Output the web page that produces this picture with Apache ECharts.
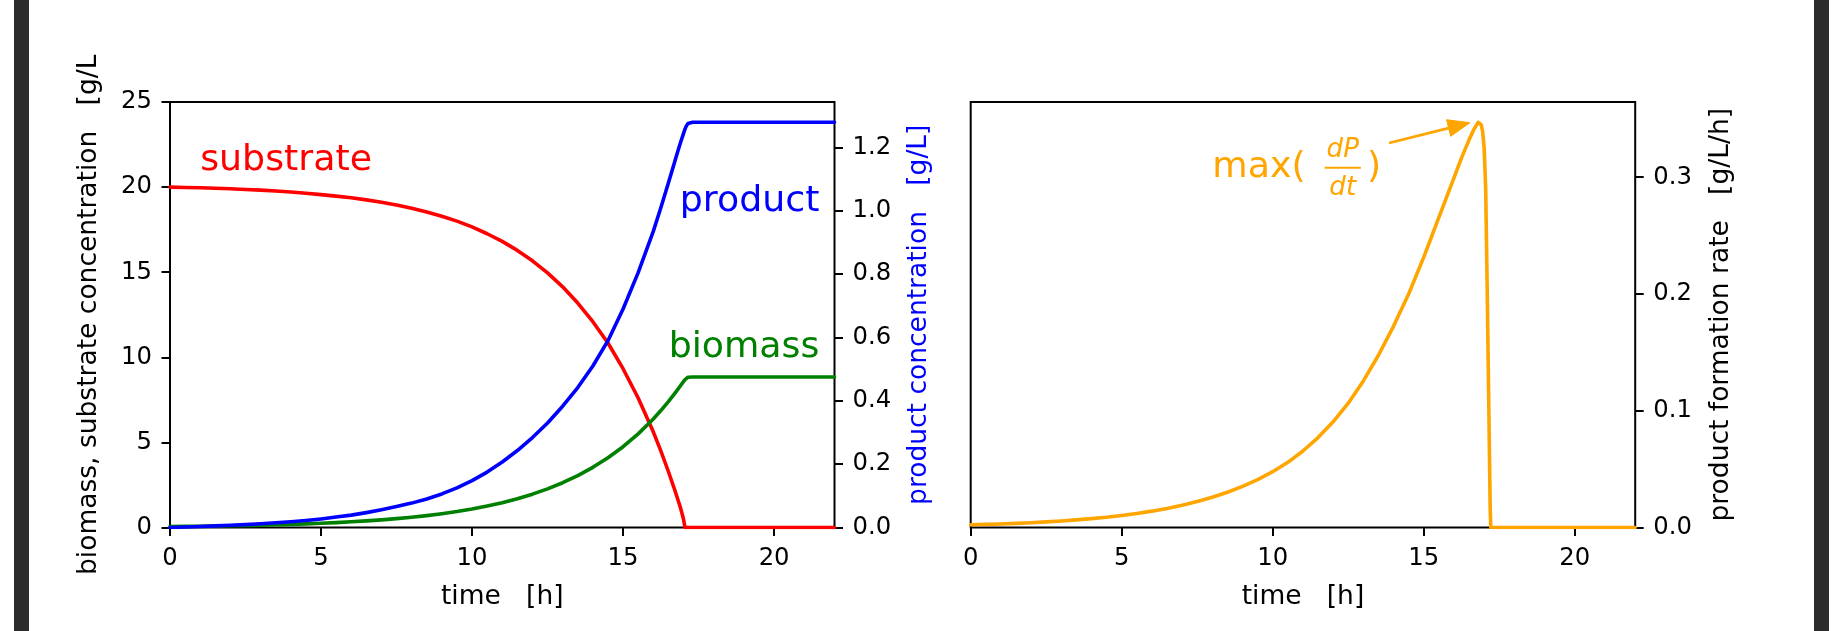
<!DOCTYPE html>
<html>
<head>
<meta charset="utf-8">
<script src="https://cdn.jsdelivr.net/npm/echarts@6.0.0/dist/echarts.min.js"></script>
<style>
html,body{margin:0;padding:0;background:#ffffff;}
#c{width:1845px;height:631px;}
</style>
</head>
<body>
<div id="c"></div>
<script>
// ---------- data ----------
const time = [0,0.5,1,1.5,2,2.5,3,3.5,4,4.5,5,5.5,6,6.5,7,7.5,8,8.5,9,9.5,10,10.5,11,11.5,12,12.5,13,13.5,14,14.5,15,15.5,16,16.25,16.5,16.7,16.8,16.9,17.0,17.05,17.1,17.15,17.2,17.3,18,19,20,21,22];
const substrate = [20.0,19.98,19.96,19.93,19.9,19.86,19.82,19.77,19.71,19.64,19.56,19.47,19.37,19.25,19.11,18.95,18.76,18.54,18.29,18.0,17.66,17.26,16.81,16.28,15.67,14.96,14.14,13.19,12.09,10.84,9.33,7.61,5.62,4.5,3.29,2.26,1.72,1.17,0.5,0,0,0,0,0,0,0,0,0,0];
const biomass = [0.057,0.066,0.076,0.089,0.103,0.119,0.138,0.16,0.185,0.215,0.249,0.288,0.334,0.387,0.448,0.52,0.602,0.698,0.809,0.937,1.086,1.259,1.459,1.691,1.959,2.271,2.631,3.05,3.534,4.096,4.746,5.5,6.375,6.87,7.4,7.85,8.09,8.33,8.57,8.69,8.78,8.83,8.845,8.845,8.845,8.845,8.845,8.845,8.845];
const product = [0,0.0015,0.003,0.005,0.007,0.009,0.012,0.015,0.018,0.022,0.027,0.033,0.039,0.047,0.056,0.066,0.077,0.09,0.106,0.125,0.148,0.175,0.207,0.243,0.284,0.33,0.383,0.442,0.51,0.59,0.69,0.805,0.935,1.01,1.088,1.152,1.184,1.215,1.244,1.258,1.269,1.276,1.279,1.2797,1.2797,1.2797,1.2797,1.2797,1.2797];

const rateTime = [0,0.5,1,1.5,2,2.5,3,3.5,4,4.5,5,5.5,6,6.5,7,7.5,8,8.5,9,9.5,10,10.5,11,11.5,12,12.5,13,13.5,14,14.5,15,15.5,16,16.25,16.5,16.65,16.8,16.9,16.95,17.0,17.05,17.1,17.15,17.2,17.22,18,19,20,21,22];
const rate = [0.0024,0.0027,0.003,0.0035,0.0041,0.0048,0.0056,0.0065,0.0076,0.0088,0.0103,0.012,0.014,0.0163,0.019,0.0222,0.0259,0.0302,0.0352,0.041,0.0478,0.0558,0.0655,0.077,0.0905,0.1065,0.1255,0.1475,0.1725,0.2,0.2315,0.2655,0.2995,0.3165,0.332,0.3405,0.347,0.345,0.339,0.325,0.29,0.205,0.11,0.015,0,0,0,0,0,0];

// tick labels
const timeTicks = [0,5,10,15,20];
const concTicks = [0,5,10,15,20,25];
const productTicks = [0,0.2,0.4,0.6,0.8,1.0,1.2];
const rateTicks = [0,0.1,0.2,0.3];

// axis ranges
const timeRange = [0,22];
const concRange = [0,25];
const productRange = [0,1.3437];
const rateRange = [0,0.3644];

// annotation anchors (data coordinates)
const noteSubstrate = [1, 21];
const noteProduct = [21.5, 1.0];
const noteBiomass = [21.5, 10];
const noteMax = [8, 0.3];
const arrowFrom = [13.85, 0.3293];
const arrowTo = [16.53, 0.3467];

// ---------- chart ----------
const FF = '"DejaVu Sans", sans-serif';
const TICK_FS = 24.3, NAME_FS = 26.5, NOTE_FS = 36.3;
const pairs = (xs, ys) => xs.map((x, i) => [x, ys[i]]);

function xAxisCfg(gi) {
  return {
    type: 'value', gridIndex: gi, position: 'bottom', min: timeRange[0], max: timeRange[1], interval: 5,
    name: 'time   [h]', nameLocation: 'middle', nameGap: 56,
    nameTextStyle: {fontFamily: FF, fontSize: NAME_FS, color: '#000'},
    axisLine: {show: false, onZero: false},
    axisTick: {show: true, inside: false, length: 8.5, lineStyle: {color: '#000', width: 2}, customValues: timeTicks},
    axisLabel: {show: true, margin: 19, fontFamily: FF, fontSize: TICK_FS, color: '#000', customValues: timeTicks, formatter: v => String(v)},
    splitLine: {show: false}
  };
}
function yAxisCfg(gi, pos, range, ticks, interval, name, nameColor, fmt, gap) {
  return {
    type: 'value', gridIndex: gi, position: pos, min: range[0], max: range[1], interval: interval,
    name: name, nameLocation: 'middle', nameRotate: 90, nameGap: gap,
    nameTextStyle: {fontFamily: FF, fontSize: NAME_FS, color: nameColor},
    axisLine: {show: false, onZero: false},
    axisTick: {show: true, inside: false, length: 8.5, lineStyle: {color: '#000', width: 2}, customValues: ticks},
    axisLabel: {show: true, margin: 18, fontFamily: FF, fontSize: TICK_FS, color: '#000', customValues: ticks, formatter: fmt},
    splitLine: {show: false}
  };
}
function lineSeries(xi, yi, data, color, z) {
  return {
    type: 'line', xAxisIndex: xi, yAxisIndex: yi, data: data, showSymbol: false, symbol: 'none',
    smooth: false, clip: true, z: z, silent: true,
    lineStyle: {color: color, width: 3.6, cap: 'round', join: 'round'}, itemStyle: {color: color}
  };
}

const option = {
  animation: false,
  backgroundColor: '#ffffff',
  grid: [
    {left: 170, top: 102, width: 664.5, height: 425.5, show: true, borderColor: '#000', borderWidth: 2, backgroundColor: 'transparent', containLabel: false, outerBoundsMode: 'none'},
    {left: 970.7, top: 102, width: 664.5, height: 425.5, show: true, borderColor: '#000', borderWidth: 2, backgroundColor: 'transparent', containLabel: false, outerBoundsMode: 'none'}
  ],
  xAxis: [xAxisCfg(0), xAxisCfg(1)],
  yAxis: [
    yAxisCfg(0, 'left', concRange, concTicks, 5, 'biomass, substrate concentration   [g/L', '#000', v => String(v), 67),
    yAxisCfg(0, 'right', productRange, productTicks, 0.2, 'product concentration   [g/L]', '#0000ff', v => v.toFixed(1), 71),
    yAxisCfg(1, 'right', rateRange, rateTicks, 0.1, 'product formation rate   [g/L/h]', '#000', v => v.toFixed(1), 72)
  ],
  series: [
    lineSeries(0, 0, pairs(time, substrate), '#ff0000', 2),
    lineSeries(0, 0, pairs(time, biomass), '#008000', 3),
    lineSeries(0, 1, pairs(time, product), '#0000ff', 4),
    lineSeries(1, 2, pairs(rateTime, rate), '#ffa500', 2)
  ]
};

const chart = echarts.init(document.getElementById('c'), null, {renderer: 'canvas', width: 1845, height: 631});
chart.setOption(option);

// ---------- annotations positioned through the chart's own scales ----------
const mctx = document.createElement('canvas').getContext('2d');
function baseOff(font) {
  mctx.font = font; mctx.textBaseline = 'alphabetic';
  const a = mctx.measureText('H').actualBoundingBoxAscent;
  mctx.textBaseline = 'middle';
  const b = mctx.measureText('H').actualBoundingBoxAscent;
  mctx.textBaseline = 'alphabetic';
  return a - b;
}
function tw(t, font) { mctx.font = font; return mctx.measureText(t).width; }
function textEl(text, x, yBase, font, color, align) {
  return {type: 'text', x: x, y: yBase - baseOff(font), z: 100, silent: true,
    style: {text: text, font: font, fill: color, align: align, verticalAlign: 'middle'}};
}
const px = (xi, yi, pt) => chart.convertToPixel({xAxisIndex: xi, yAxisIndex: yi}, pt);

const noteFont = NOTE_FS + 'px ' + FF;
const fracFont = 'italic ' + (NOTE_FS * 0.72).toFixed(1) + 'px ' + FF;
const ORANGE = '#ffa500';
const els = [];

// frame bars of the page
els.push({type: 'rect', shape: {x: 14, y: 0, width: 15, height: 631}, style: {fill: '#2b2b2b'}, silent: true, z: 0});
els.push({type: 'rect', shape: {x: 1814, y: 0, width: 15, height: 631}, style: {fill: '#2b2b2b'}, silent: true, z: 0});

let p = px(0, 0, noteSubstrate);
els.push(textEl('substrate', p[0], p[1], noteFont, '#ff0000', 'left'));
p = px(0, 1, noteProduct);
els.push(textEl('product', p[0], p[1], noteFont, '#0000ff', 'right'));
p = px(0, 0, noteBiomass);
els.push(textEl('biomass', p[0], p[1], noteFont, '#008000', 'right'));

// max(dP/dt)
p = px(1, 2, noteMax);
const x0 = p[0], yb = p[1];
els.push(textEl('max(', x0, yb, noteFont, ORANGE, 'left'));
const barL = x0 + tw('max(', noteFont) + 19;
const barW = Math.max(tw('dP', fracFont), tw('dt', fracFont)) + 4;
const barY = yb - 9.5;
els.push({type: 'line', shape: {x1: barL, y1: barY, x2: barL + barW, y2: barY}, style: {stroke: ORANGE, lineWidth: 2}, silent: true, z: 100});
els.push(textEl('dP', barL + barW / 2, yb - 20, fracFont, ORANGE, 'center'));
els.push(textEl('dt', barL + barW / 2, yb + 18, fracFont, ORANGE, 'center'));
els.push(textEl(')', barL + barW + 6, yb, noteFont, ORANGE, 'left'));

// arrow
const a0 = px(1, 2, arrowFrom), a1 = px(1, 2, arrowTo);
const dx = a1[0] - a0[0], dy = a1[1] - a0[1], L = Math.hypot(dx, dy);
const ux = dx / L, uy = dy / L, headL = 22, headW = 17;
const bx = a1[0] - ux * headL, by = a1[1] - uy * headL;
els.push({type: 'line', shape: {x1: a0[0], y1: a0[1], x2: bx + ux * 2, y2: by + uy * 2}, style: {stroke: ORANGE, lineWidth: 2.8}, silent: true, z: 100});
els.push({type: 'polygon', shape: {points: [[a1[0], a1[1]], [bx - uy * headW / 2, by + ux * headW / 2], [bx + uy * headW / 2, by - ux * headW / 2]]}, style: {fill: ORANGE, stroke: ORANGE, lineWidth: 1}, silent: true, z: 100});

chart.setOption({graphic: {elements: els}});
</script>
</body>
</html>
